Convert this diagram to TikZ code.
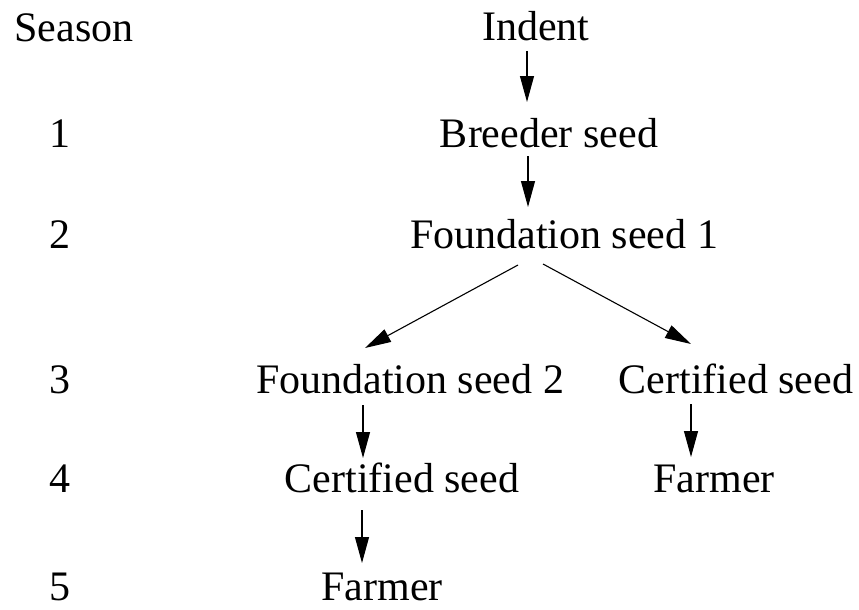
\documentclass[tikz,border=0pt]{standalone}
\usepackage{fontspec}
\setmainfont{Liberation Serif}
\usetikzlibrary{arrows.meta,calc}
\begin{document}
\begin{tikzpicture}[x=1pt,y=-1pt,
  lbl/.style={anchor=base,inner sep=0pt,font=\fontsize{42}{50}\selectfont},
  arr/.style={line width=1.1pt,-{Triangle[length=26pt,width=14pt]}}]
\useasboundingbox[fill=white] (0,0) rectangle (859,610);
% season column
\node[lbl] (season) at (74,42) {Season};
\node[lbl] (s1) at (60,147) {1};
\node[lbl] (s2) at (60,248) {2};
\node[lbl] (s3) at (60,393) {3};
\node[lbl] (s4) at (60,492) {4};
\node[lbl] (s5) at (60,600) {5};
% flow
\node[lbl] (indent) at (536,41) {Indent};
\node[lbl] (breeder) at (549,147) {Breeder seed};
\node[lbl] (found1) at (564,248) {Foundation seed 1};
\node[lbl] (found2) at (410,393) {Foundation seed 2};
\node[lbl] (cert3) at (736,393) {Certified seed};
\node[lbl] (cert4) at (402,492) {Certified seed};
\node[lbl] (farm4) at (714,492) {Farmer};
\node[lbl] (farm5) at (382,600) {Farmer};
% arrows
\draw[arr] ($(indent.base)+(-9,10)$) -- ($(breeder.base)+(-22,-45)$);
\draw[arr] ($(breeder.base)+(-21,9)$) -- ($(found1.base)+(-36,-41)$);
\draw[arr] ($(found1.base)+(-46,17)$) -- ($(found2.base)+(-45,-45)$);
\draw[arr] ($(found1.base)+(-21,16)$) -- ($(cert3.base)+(-45,-49)$);
\draw[arr] ($(found2.base)+(-47,12)$) -- ($(cert4.base)+(-39,-34)$);
\draw[arr] ($(cert4.base)+(-40,18)$) -- ($(farm5.base)+(-20,-37)$);
\draw[arr] ($(cert3.base)+(-45,11)$) -- ($(farm4.base)+(-23,-35)$);
\end{tikzpicture}
\end{document}
